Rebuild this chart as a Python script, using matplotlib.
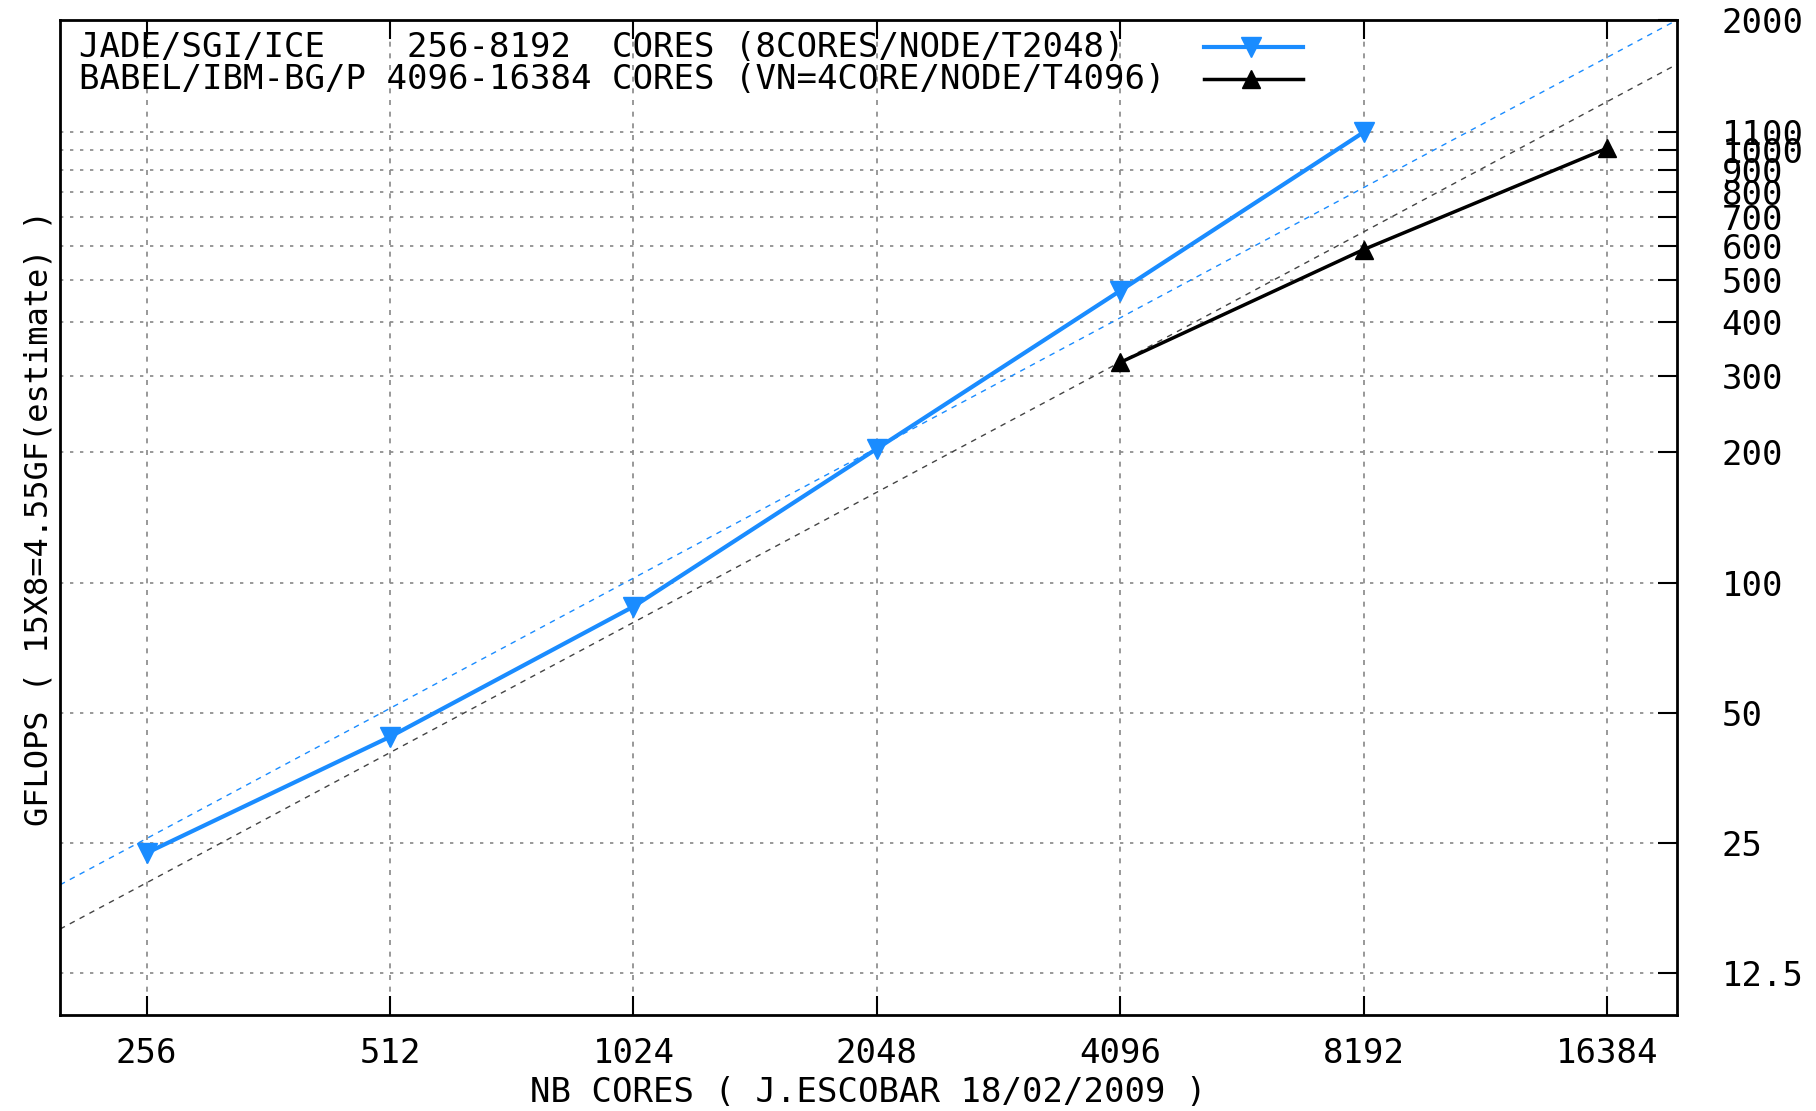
import matplotlib
matplotlib.use('Agg')
import matplotlib.pyplot as plt
from matplotlib.ticker import NullLocator

# data
cores_jade = [256, 512, 1024, 2048, 4096, 8192]
gflops_jade = [23.7, 44.0, 88.0, 204, 473, 1100]
cores_babel = [4096, 8192, 16384]
gflops_babel = [323, 589, 1010]

# ideal linear scaling guides (end points at the axis limits)
ideal_x = [200, 20000]
ideal_jade = [20.0, 2000.0]
ideal_babel = [15.8, 1580.0]

x_ticks = [256, 512, 1024, 2048, 4096, 8192, 16384]
y_ticks = [12.5, 25, 50, 100, 200, 300, 400, 500, 600, 700, 800, 900, 1000, 1100, 2000]
y_labels = ['12.5', '25', '50', '100', '200', '300', '400', '500', '600', '700',
            '800', '900', '1000', '1100', '2000']

label_jade = 'JADE/SGI/ICE    256-8192  CORES (8CORES/NODE/T2048)'
label_babel = 'BABEL/IBM-BG/P 4096-16384 CORES (VN=4CORE/NODE/T4096)'

BLUE = '#1a8cff'
FONT = 'DejaVu Sans Mono'
FS = 24.5

plt.rcParams['font.family'] = FONT

fig = plt.figure(figsize=(18.16, 11.11), dpi=100)
ax = fig.add_axes([60 / 1816, 96 / 1111, 1617 / 1816, 995 / 1111])

ax.set_xscale('log', base=2)
ax.set_yscale('log')
ax.set_xlim(200, 20000)
ax.set_ylim(10, 2000)

# guides
ax.plot(ideal_x, ideal_jade, color=BLUE, lw=1.0, ls=(0, (4, 4)), zorder=2)
ax.plot(ideal_x, ideal_babel, color='#444444', lw=1.0, ls=(0, (4, 4)), zorder=2)

# series
ax.plot(cores_jade, gflops_jade, color=BLUE, lw=3, marker='v', ms=14, zorder=4)
ax.plot(cores_babel, gflops_babel, color='black', lw=2.5, marker='^', ms=13, zorder=4)

# axes / ticks
ax.set_xticks(x_ticks)
ax.set_xticklabels([str(v) for v in x_ticks], fontsize=FS)
ax.xaxis.set_minor_locator(NullLocator())
ax.tick_params(axis='x', direction='in', length=14, width=1.5, top=True, pad=16)

ax.yaxis.tick_right()
ax.set_yticks(y_ticks)
ax.set_yticklabels(y_labels, fontsize=FS)
ax.yaxis.set_minor_locator(NullLocator())
ax.tick_params(axis='y', direction='in', length=14, width=1.5, left=False, right=True, pad=32)

ax.grid(True, axis='x', color='#888888', ls=(0, (3, 4)), lw=1.2)
ax.grid(True, axis='y', color='#888888', ls=(0, (2, 4)), lw=1.2)

for s in ax.spines.values():
    s.set_linewidth(2)

ax.set_xlabel('NB CORES ( J.ESCOBAR 18/02/2009 )', fontsize=FS, labelpad=4)
ax.set_ylabel('GFLOPS ( 15X8=4.55GF(estimate) )', fontsize=FS - 1.5, labelpad=4)
ax.yaxis.set_label_position('left')

# hand drawn key, gnuplot style (text on the left, sample on the right)
key_y = [0.9724, 0.9407]
ax.text(0.0117, key_y[0], label_jade, transform=ax.transAxes, fontsize=FS, va='center', ha='left')
ax.text(0.0117, key_y[1], label_babel, transform=ax.transAxes, fontsize=FS, va='center', ha='left')
ax.plot([0.7075, 0.7687], [key_y[0]] * 2, transform=ax.transAxes, color=BLUE, lw=3, clip_on=False)
ax.plot([0.7365], [key_y[0]], transform=ax.transAxes, color=BLUE, marker='v', ms=14, clip_on=False)
ax.plot([0.7075, 0.7687], [key_y[1]] * 2, transform=ax.transAxes, color='black', lw=2.5, clip_on=False)
ax.plot([0.7365], [key_y[1]], transform=ax.transAxes, color='black', marker='^', ms=13, clip_on=False)

fig.savefig('out.png', dpi=100)
